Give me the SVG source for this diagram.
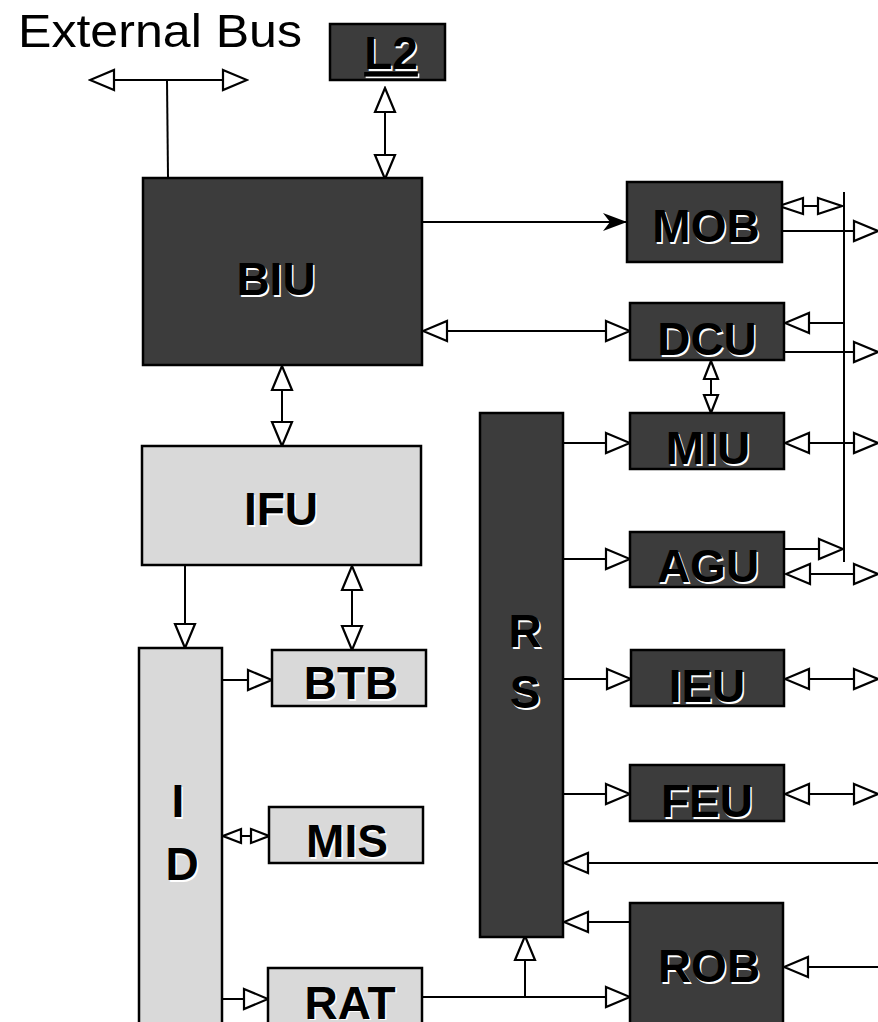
<svg xmlns="http://www.w3.org/2000/svg" width="878" height="1022" viewBox="0 0 878 1022">
<style>
.dk{fill:#3c3c3c;stroke:#000;stroke-width:2.5}
.lt{fill:#d9d9d9;stroke:#000;stroke-width:2.5}
.t{font-family:"Liberation Sans",Arial,sans-serif;font-weight:bold;font-size:46px;text-anchor:middle}
.sh{fill:#fff}
.fg{fill:#000}
.c line,.c path{stroke:#000;stroke-width:2;fill:none}
</style>
<defs>
<marker id="b" viewBox="-2 -2 28 24" refX="24" refY="10" markerWidth="28" markerHeight="24" markerUnits="userSpaceOnUse" orient="auto-start-reverse"><path d="M0,0 L24,10 L0,20 z" fill="#fff" stroke="#000" stroke-width="2.2"/></marker>
<marker id="n" viewBox="-2 -2 28 20" refX="24" refY="8" markerWidth="28" markerHeight="20" markerUnits="userSpaceOnUse" orient="auto-start-reverse"><path d="M0,0 L24,8 L0,16 z" fill="#fff" stroke="#000" stroke-width="2.2"/></marker>
<marker id="s" viewBox="-2 -2 22 18" refX="18" refY="7" markerWidth="22" markerHeight="18" markerUnits="userSpaceOnUse" orient="auto-start-reverse"><path d="M0,0 L18,7 L0,14 z" fill="#fff" stroke="#000" stroke-width="2.2"/></marker>
<marker id="v" viewBox="-1 -1 26 20" refX="24" refY="9" markerWidth="26" markerHeight="20" markerUnits="userSpaceOnUse" orient="auto"><path d="M0,0 L24,9 L0,18 L7,9 z" fill="#000"/></marker>
</defs>
<rect width="878" height="1022" fill="#fff"/>

<text x="18" y="47" font-family="Liberation Sans,Arial,sans-serif" font-size="47" textLength="284" lengthAdjust="spacingAndGlyphs" fill="#000">External Bus</text>

<g class="c" id="connectors">
<line x1="90" y1="80" x2="247" y2="80" marker-start="url(#b)" marker-end="url(#b)"/>
<line x1="167" y1="80" x2="168" y2="177"/>
<line x1="385" y1="88" x2="385" y2="179" marker-start="url(#b)" marker-end="url(#b)"/>
<line x1="282" y1="366" x2="282" y2="446" marker-start="url(#b)" marker-end="url(#b)"/>
<line x1="185" y1="566" x2="185" y2="648" marker-end="url(#b)"/>
<line x1="352" y1="566" x2="352" y2="650" marker-start="url(#b)" marker-end="url(#b)"/>
<line x1="223" y1="680" x2="272" y2="680" marker-end="url(#b)"/>
<line x1="223" y1="836" x2="269" y2="836" marker-start="url(#s)" marker-end="url(#s)"/>
<line x1="223" y1="999" x2="268" y2="999" marker-end="url(#b)"/>
<line x1="423" y1="997" x2="630" y2="997" marker-end="url(#b)"/>
<line x1="525" y1="997" x2="525" y2="936" marker-end="url(#b)"/>
<line x1="423" y1="222" x2="627" y2="222" marker-end="url(#v)"/>
<line x1="423" y1="331" x2="630" y2="331" marker-start="url(#b)" marker-end="url(#b)"/>
<line x1="844" y1="192" x2="844" y2="562"/>
<line x1="779" y1="206" x2="842" y2="206" marker-start="url(#n)" marker-end="url(#n)"/>
<line x1="783" y1="231" x2="878" y2="231" marker-end="url(#b)"/>
<line x1="843" y1="323" x2="785" y2="323" marker-end="url(#b)"/>
<line x1="785" y1="352" x2="878" y2="352" marker-end="url(#b)"/>
<line x1="711" y1="361" x2="711" y2="413" marker-start="url(#s)" marker-end="url(#s)"/>
<line x1="564" y1="443" x2="630" y2="443" marker-end="url(#b)"/>
<line x1="785" y1="443" x2="878" y2="443" marker-start="url(#b)" marker-end="url(#b)"/>
<line x1="564" y1="559" x2="630" y2="559" marker-end="url(#b)"/>
<line x1="785" y1="549" x2="843" y2="549" marker-end="url(#b)"/>
<line x1="786" y1="574" x2="878" y2="574" marker-start="url(#b)" marker-end="url(#b)"/>
<line x1="564" y1="679" x2="631" y2="679" marker-end="url(#b)"/>
<line x1="785" y1="679" x2="878" y2="679" marker-start="url(#b)" marker-end="url(#b)"/>
<line x1="564" y1="794" x2="630" y2="794" marker-end="url(#b)"/>
<line x1="785" y1="794" x2="878" y2="794" marker-start="url(#b)" marker-end="url(#b)"/>
<line x1="878" y1="863" x2="564" y2="863" marker-end="url(#b)"/>
<line x1="630" y1="922" x2="564" y2="922" marker-end="url(#b)"/>
<line x1="878" y1="967" x2="784" y2="967" marker-end="url(#b)"/>
</g>

<g id="L2"><rect class="dk" x="330" y="24" width="115" height="56"/><text class="t sh" x="392.5" y="70.5" text-decoration="underline">L2</text><text class="t fg" x="391" y="69" text-decoration="underline">L2</text></g>
<g id="BIU"><rect class="dk" x="143" y="178" width="279" height="187"/><text class="t sh" x="277.5" y="296.5">BIU</text><text class="t fg" x="276" y="295">BIU</text></g>
<g id="IFU"><rect class="lt" x="142" y="446" width="279" height="119"/><text class="t sh" x="282.5" y="526.5">IFU</text><text class="t fg" x="281" y="525">IFU</text></g>
<g id="ID"><rect class="lt" x="139" y="648" width="83" height="380"/><text class="t sh" x="179.5" y="818.5">I</text><text class="t fg" x="178" y="817">I</text><text class="t sh" x="183.5" y="881.5">D</text><text class="t fg" x="182" y="880">D</text></g>
<g id="BTB"><rect class="lt" x="272" y="650" width="154" height="56"/><text class="t sh" x="352.5" y="700.5">BTB</text><text class="t fg" x="351" y="699">BTB</text></g>
<g id="MIS"><rect class="lt" x="269" y="807" width="154" height="56"/><text class="t sh" x="348.5" y="858.5">MIS</text><text class="t fg" x="347" y="857">MIS</text></g>
<g id="RAT"><rect class="lt" x="268" y="968" width="154" height="60"/><text class="t sh" x="351.5" y="1020">RAT</text><text class="t fg" x="350" y="1018.5">RAT</text></g>
<g id="RS"><rect class="dk" x="480" y="413" width="83" height="524"/><text class="t sh" x="526.5" y="648.5">R</text><text class="t fg" x="525" y="647">R</text><text class="t sh" x="526.5" y="709.5">S</text><text class="t fg" x="525" y="708">S</text></g>
<g id="MOB"><rect class="dk" x="627" y="182" width="155" height="80"/><text class="t sh" x="707.5" y="243.5">MOB</text><text class="t fg" x="706" y="242">MOB</text></g>
<g id="DCU"><rect class="dk" x="630" y="303" width="154" height="57"/><text class="t sh" x="708.5" y="356.5">DCU</text><text class="t fg" x="707" y="355">DCU</text></g>
<g id="MIU"><rect class="dk" x="630" y="413" width="154" height="56"/><text class="t sh" x="709.5" y="465.5">MIU</text><text class="t fg" x="708" y="464">MIU</text></g>
<g id="AGU"><rect class="dk" x="630" y="532" width="154" height="55"/><text class="t sh" x="709.5" y="583.5">AGU</text><text class="t fg" x="708" y="582">AGU</text></g>
<g id="IEU"><rect class="dk" x="631" y="650" width="153" height="56"/><text class="t sh" x="708.5" y="703.5">IEU</text><text class="t fg" x="707" y="702">IEU</text></g>
<g id="FEU"><rect class="dk" x="630" y="765" width="154" height="56"/><text class="t sh" x="708.5" y="818.5">FEU</text><text class="t fg" x="707" y="817">FEU</text></g>
<g id="ROB"><rect class="dk" x="630" y="903" width="153" height="130"/><text class="t sh" x="710.5" y="983.5">ROB</text><text class="t fg" x="709" y="982">ROB</text></g>
</svg>
